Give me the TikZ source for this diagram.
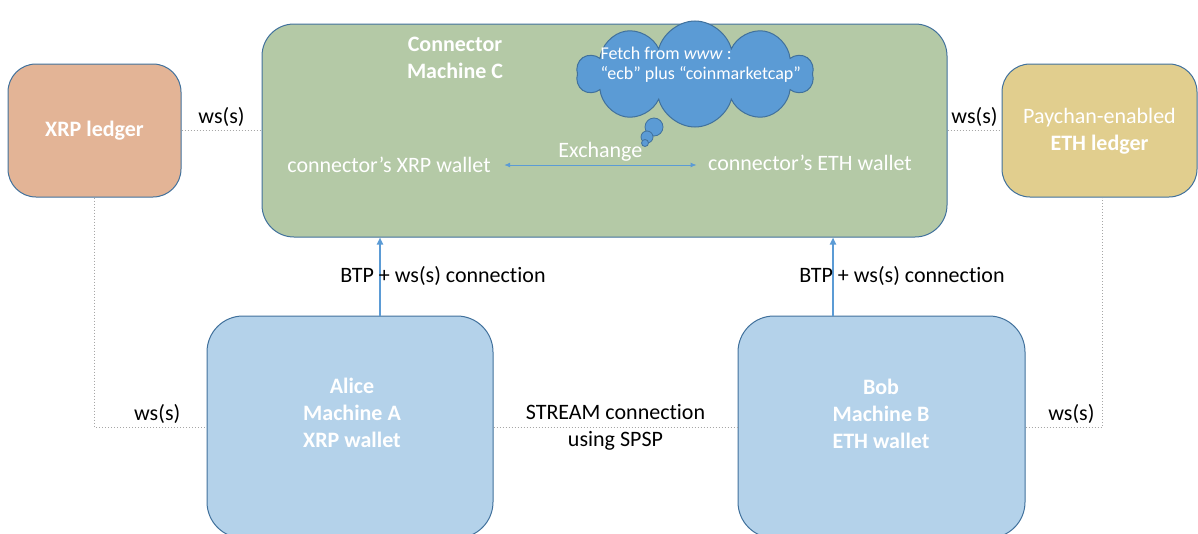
\documentclass[tikz,border=0pt]{standalone}
\usepackage{fontspec}
\setmainfont{Carlito}[Ligatures={NoCommon}]
\usetikzlibrary{calc,arrows.meta,shapes.symbols}

\definecolor{xrpfill}{HTML}{E3B496}
\definecolor{connfill}{HTML}{B4C9A6}
\definecolor{ethfill}{HTML}{E1CE8E}
\definecolor{machfill}{HTML}{B4D2EA}
\definecolor{edgeblue}{HTML}{41719C}
\definecolor{arrowblue}{HTML}{5B9BD5}
\definecolor{dotgray}{HTML}{A6A6A6}

\tikzset{
  every node/.style={font=\fontsize{22}{27}\selectfont},
  box/.style={draw=edgeblue,line width=1pt,rounded corners=28pt,inner sep=0pt},
  boxtext/.style={text=white,align=center},
  wsline/.style={dotgray,dotted,line width=1pt},
  wslabel/.style={text=black,inner sep=3pt},
  btp/.style={arrowblue,line width=2pt,-{Triangle[length=7pt,width=6pt]}},
  exch/.style={arrowblue,line width=1pt,{Latex[length=6pt,width=5pt]}-{Latex[length=6pt,width=5pt]}},
}

\begin{document}
\begin{tikzpicture}[x=1pt,y=-1pt]
\useasboundingbox (0,0) rectangle (1198,533);
\clip (0,0) rectangle (1198,533);
% boxes
\node[box,fill=xrpfill,minimum width=173pt,minimum height=133pt] (xrp) at (94.5,130.5) {};
\node[box,fill=connfill,minimum width=685pt,minimum height=213pt,rounded corners=32pt] (conn) at (604.5,130.5) {};
\node[box,fill=ethfill,minimum width=195pt,minimum height=133pt] (eth) at (1099.5,130.5) {};
\node[box,fill=machfill,minimum width=286pt,minimum height=222pt,rounded corners=36pt] (alice) at (350,427) {};
\node[box,fill=machfill,minimum width=287pt,minimum height=222pt,rounded corners=36pt] (bob) at (881.5,427) {};
% texts in boxes
\node[boxtext,font=\fontsize{22}{27}\selectfont\bfseries] (xrptxt) at (xrp) {XRP ledger};
\node[boxtext] (ethtxt) at (1099.5,131) {Paychan-enabled\\\textbf{ETH ledger}};
\node[boxtext,font=\fontsize{22}{27}\selectfont\bfseries] (conntxt) at (455,57.5) {Connector\\Machine C};
\node[boxtext,font=\fontsize{22}{27}\selectfont\bfseries] (alicetxt) at (352,412.5) {Alice\\Machine A\\XRP wallet};
\node[boxtext,font=\fontsize{22}{27}\selectfont\bfseries] (bobtxt) at (881,413.5) {Bob\\Machine B\\ETH wallet};
\node[boxtext] (xrpw) at (389,165) {connector’s XRP wallet};
\node[boxtext] (ethw) at (810,163) {connector’s ETH wallet};
% exchange
\draw[exch] ([xshift=10pt]xrpw.east |- 0,165) -- ([xshift=-8pt]ethw.west |- 0,165)
  node[midway,above,text=white,inner sep=3pt] {Exchange};
% cloud with its bubbles
\node[cloud,cloud puffs=10,aspect=2,draw=edgeblue,fill=arrowblue,line width=1pt,
  minimum width=236pt,minimum height=106pt] (cloud) at (695,74) {};
\draw[edgeblue,fill=arrowblue,line width=0.8pt] (654,127) circle[radius=9pt];
\draw[edgeblue,fill=arrowblue,line width=0.8pt] (647,137) circle[radius=6pt];
\draw[edgeblue,fill=arrowblue,line width=0.8pt] (645,143) circle[radius=3.5pt];
\node[text=white,align=left,anchor=west,font=\fontsize{18}{20}\selectfont] (fetch) at (597,65)
  {Fetch from \textit{www} :\\“ecb” plus “coinmarketcap”};
% ws(s) links
\draw[wsline] (xrp.east) -- (conn.west) node[midway,above,wslabel] {ws(s)};
\draw[wsline] (conn.east) -- (eth.east -| eth.west) node[midway,above,wslabel] {ws(s)};
\draw[wsline] (xrp.south) |- (alice.west) node[pos=0.78,above,wslabel] {ws(s)};
\draw[wsline] (bob.east) -| ([xshift=2.5pt]eth.south) node[pos=0.3,above,wslabel] {ws(s)};
\draw[wsline] (alice.east) -- (bob.west)
  node[midway,align=center,text=black] {STREAM connection\\using SPSP};
% BTP links
\draw[btp] ([xshift=30pt]alice.north) -- ([xshift=30pt]alice.north |- conn.south);
\node (btpa) at (443,276) {BTP + ws(s) connection};
\draw[btp] ([xshift=-48.5pt]bob.north) -- ([xshift=-48.5pt]bob.north |- conn.south);
\node (btpb) at (902,276) {BTP + ws(s) connection};
\end{tikzpicture}
\end{document}
